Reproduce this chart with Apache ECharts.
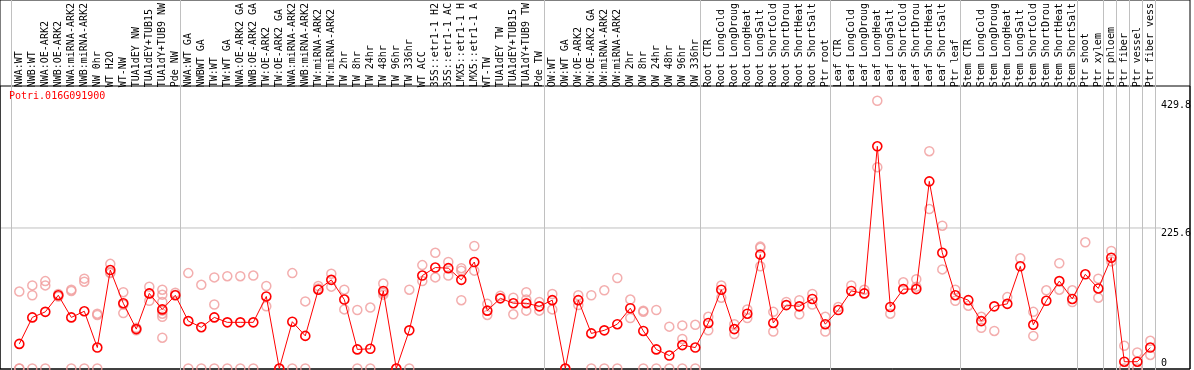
<!DOCTYPE html>
<html><head><meta charset="utf-8">
<script src="https://cdn.jsdelivr.net/npm/echarts@6/dist/echarts.min.js"></script>
<style>html,body{margin:0;padding:0;background:#fff}#c{width:1194px;height:370px}</style>
</head><body><div id="c"></div><script>
const chartTitle = 'Potri.016G091900';
const categories = [
 'NWA:WT','NWB:WT','NWA:OE-ARK2','NWB:OE-ARK2','NWA:miRNA-ARK2','NWB:miRNA-ARK2','NW 0hr','WT H2O','WT-NW','TUA1dEY NW','TUA1dEY+TUB15','TUA1dY+TUB9 NW','Pde NW',
 'NWA:WT GA','NWBWT GA','TW:WT','TW:WT GA','NWA:OE-ARK2 GA','NWB:OE-ARK2 GA','TW:OE-ARK2','TW:OE-ARK2 GA','NWA:miRNA-ARK2','NWB:miRNA-ARK2','TW:miRNA-ARK2','TW:miRNA-ARK2',
 'TW 2hr','TW 8hr','TW 24hr','TW 48hr','TW 96hr','TW 336hr','WT ACC','35S::etr1-1 H2','35S::etr1-1 AC','LMX5::etr1-1 H','LMX5::etr1-1 A','WT-TW','TUA1dEY TW','TUA1dEY+TUB15','TUA1dY+TUB9 TW','Pde TW',
 'OW:WT','OW:WT GA','OW:OE-ARK2','OW:OE-ARK2 GA','OW:miRNA-ARK2','OW:miRNA-ARK2','OW 2hr','OW 8hr','OW 24hr','OW 48hr','OW 96hr','OW 336hr',
 'Root CTR','Root LongCold','Root LongDroug','Root LongHeat','Root LongSalt','Root ShortCold','Root ShortDrou','Root ShortHeat','Root ShortSalt','Ptr root',
 'Leaf CTR','Leaf LongCold','Leaf LongDroug','Leaf LongHeat','Leaf LongSalt','Leaf ShortCold','Leaf ShortDrou','Leaf ShortHeat','Leaf ShortSalt','Ptr leaf',
 'Stem CTR','Stem LongCold','Stem LongDroug','Stem LongHeat','Stem LongSalt','Stem ShortCold','Stem ShortDrou','Stem ShortHeat','Stem ShortSalt',
 'Ptr shoot','Ptr xylem','Ptr phloem','Ptr fiber','Ptr vessel','Ptr fiber vess'
];
const meanValues = [
 40,83,92,119,83,93,34,160,106,64,122,96,119,
 77,67,83,75,75,75,117,0,76,53,128,144,
 112,31,32,126,0,62,151,164,163,144,173,94,114,106,106,101,
 111,0,111,57,62,72,98,61,31,21,38,34,
 74,128,64,89,185,74,103,101,113,72,
 95,126,122,361,100,129,129,304,188,119,
 111,77,101,105,166,71,110,142,113,
 153,130,180,11,11,34
];
const replicateValues = [
 [125,0,0],[135,119,0],[142,135,0],[121,117],[128,126,0],[146,141,0],[89,87,0],[170,156,155],[124,90,104],[66,62],[133,110,122],[128,120,108,94,89,84,50],[123,120],
 [155,0],[136,0],[148,104,0],[150,0],[150,0],[151,0],[134,101],[0],[155,0],[109,0],[134,130],[154,133],
 [128,96],[95,0],[99,0],[138,123,120],[0],[128,0],[168,142],[188,148],[173,151],[163,159,111],[199,159],[105,87],[118],[115,88],[124,112,94],[108,94],
 [121,96],[0],[119,103],[119,0],[127,0],[147,0],[112,82],[94,92,0],[95,0],[68,0],[70,48,0],[71,0],
 [84,62],[135,115],[72,56],[96,82],[198,196,166],[92,60],[108],[111,88],[121,104],[84,60],
 [100],[135],[128],[435,327],[89],[140],[145,133],[353,259],[232,161],[110,128],
 [102],[84,66],[61],[116],[179],[92,53],[127],[171,128],[127,108],
 [205],[146,115],[191,174],[37,0],[26,0],[45,22]
];
const yTickValues = [0, 225.6, 429.8];
const groupBreaks = [0, 13, 41, 53, 63, 73, 82, 84, 85, 86, 87];
const Y_MAX = 453.6;
const FONT = 'DejaVu Sans Mono';

const scatterData = [];
replicateValues.forEach((arr, i) => arr.forEach(v => scatterData.push([i, v])));

const chart = echarts.init(document.getElementById('c'), null, {renderer: 'canvas'});
chart.setOption({
  animation: false,
  title: {text: chartTitle, left: 9, top: 91, padding: 0,
    textStyle: {fontFamily: FONT, fontSize: 10, fontWeight: 'normal', color: '#ff0000'}},
  grid: [
    {left: 0, top: 0, width: 1190, height: 369, show: true, borderColor: '#000', borderWidth: 1, backgroundColor: 'transparent'},
    {left: 0, top: 86, width: 1190, height: 283, show: true, borderColor: '#000', borderWidth: 1, backgroundColor: 'transparent'},
    {left: 10.8, top: 0, width: 1144, height: 370},
    {left: 1, top: 86, width: 1162, height: 282.5},
    {left: 12.8, top: 86, width: 1144, height: 282.5}
  ],
  xAxis: [
    {gridIndex: 0, type: 'value', show: false},
    {gridIndex: 1, type: 'value', show: false},
    {gridIndex: 2, type: 'category', data: categories, boundaryGap: true,
      axisLine: {show: false}, axisTick: {show: false}, axisLabel: {show: false},
      splitLine: {show: true, interval: (i) => groupBreaks.includes(i), lineStyle: {color: '#c0c0c0', width: 1}}},
    {gridIndex: 3, type: 'value', show: false, min: 0, max: 1},
    {gridIndex: 4, type: 'category', position: 'top', data: categories, boundaryGap: true,
      axisLine: {show: false}, axisTick: {show: false}, splitLine: {show: false},
      axisLabel: {interval: 0, rotate: 90, margin: 2, fontFamily: FONT, fontSize: 10, color: '#000'}}
  ],
  yAxis: [
    {gridIndex: 0, type: 'value', show: false},
    {gridIndex: 1, type: 'value', show: false},
    {gridIndex: 2, type: 'value', show: false},
    {gridIndex: 3, type: 'value', position: 'right', min: 0, max: Y_MAX,
      axisLine: {show: false}, axisTick: {show: false}, splitLine: {show: false},
      axisLabel: {customValues: yTickValues.slice(1), margin: 0, align: 'left', verticalAlign: 'top',
        fontFamily: FONT, fontSize: 10, color: '#000', formatter: (v) => String(v)}},
    {gridIndex: 3, type: 'value', position: 'right', min: 0, max: Y_MAX,
      axisLine: {show: false}, axisTick: {show: false}, splitLine: {show: false},
      axisLabel: {customValues: yTickValues.slice(0, 1), margin: 0, align: 'left', verticalAlign: 'bottom',
        fontFamily: FONT, fontSize: 10, color: '#000', formatter: (v) => String(v)}},
    {gridIndex: 4, type: 'value', show: false, min: 0, max: Y_MAX}
  ],
  series: [
    {type: 'line', xAxisIndex: 3, yAxisIndex: 3, silent: true, symbol: 'none',
      data: [[0, yTickValues[1]], [1, yTickValues[1]]],
      lineStyle: {color: '#c0c0c0', width: 1}, z: 1},
    {type: 'scatter', xAxisIndex: 4, yAxisIndex: 5, data: scatterData, symbol: 'circle', symbolSize: 9,
      itemStyle: {color: 'rgba(0,0,0,0)', borderColor: '#f09a9a', borderWidth: 1.5}, z: 2, clip: false},
    {type: 'line', xAxisIndex: 4, yAxisIndex: 5, data: meanValues, symbol: 'circle', symbolSize: 9,
      showSymbol: true, showAllSymbol: true, clip: false,
      lineStyle: {color: '#ff0000', width: 1},
      itemStyle: {color: 'rgba(0,0,0,0)', borderColor: '#ff0000', borderWidth: 1.6}, z: 3}
  ]
});
</script></body></html>
